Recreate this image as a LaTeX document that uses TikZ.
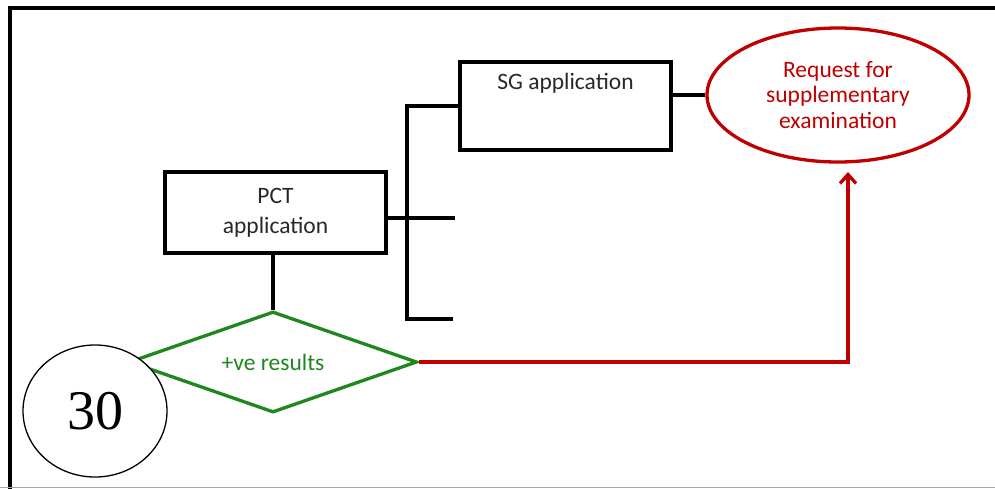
\documentclass[tikz,border=0pt]{standalone}
\usepackage{fontspec}
\setmainfont{Carlito}
\newfontfamily\numfont{Liberation Serif}
\usetikzlibrary{shapes.geometric,arrows.meta}
\definecolor{redc}{RGB}{192,0,0}
\definecolor{greenc}{RGB}{30,135,30}
\definecolor{txt}{RGB}{40,40,40}
\begin{document}
\begin{tikzpicture}[x=1pt,y=-1pt,
  box/.style={draw=black,line width=3.5pt,inner sep=0pt,text=txt},
  conn/.style={draw=black,line width=4.5pt,line join=miter},
  redline/.style={draw=redc,line width=3.8pt,line join=miter},
  lbl/.style={font=\fontsize{23.5}{30}\selectfont}]
\useasboundingbox (0,0) rectangle (995,488);
\fill[white] (0,0) rectangle (995,488);
% frame
\draw[line width=3.2pt,line join=miter] (1000,8) -- (10,8) -- (10,490);
\draw[gray!70,line width=1.2pt] (0,487.5) -- (995,487.5);
% nodes
\node[box,minimum width=221pt,minimum height=81pt,align=center,lbl] (pct) at (275.5,212.5) {PCT\\application};
\node[box,minimum width=211pt,minimum height=88pt,
  label={[anchor=north,yshift=-9pt,lbl,text=txt]north:SG application}] (sg) at (565.5,106) {};
\node[ellipse,draw=redc,line width=3.3pt,minimum width=262pt,minimum height=134pt,
  text=redc,align=center,inner sep=0pt,font=\fontsize{23.5}{25.5}\selectfont] (req) at (838,95)
  {Request for\\supplementary\\examination};
\node[diamond,draw=greenc,line width=3.3pt,minimum width=288pt,minimum height=101pt,
  inner sep=0pt,label={[lbl,text=greenc]center:+ve results}] (dia) at (273,362) {};
\node[ellipse,draw=black,line width=1.3pt,fill=white,minimum width=144pt,minimum height=132pt,
  inner sep=0pt,font=\numfont\fontsize{56}{60}\selectfont] (num) at (95,411) {30};
% bracket
\coordinate (b2) at (455,218);
\coordinate (b3) at (453,319);
\coordinate (bv) at (407,319);
\draw[conn] (sg.west) -| (bv) -- (b3);
\draw[conn] (pct.east |- b2) -- (b2);
% connectors
\draw[conn] (pct.south -| dia.north) -- (dia.north);
\draw[conn] (sg.east |- req.west) -- (req.west);
\coordinate (tip) at (848,172);
\draw[redline,-{Straight Barb[length=9pt,width=16pt,line width=3.3pt]}] (dia.east) -| (tip);
\end{tikzpicture}
\end{document}
